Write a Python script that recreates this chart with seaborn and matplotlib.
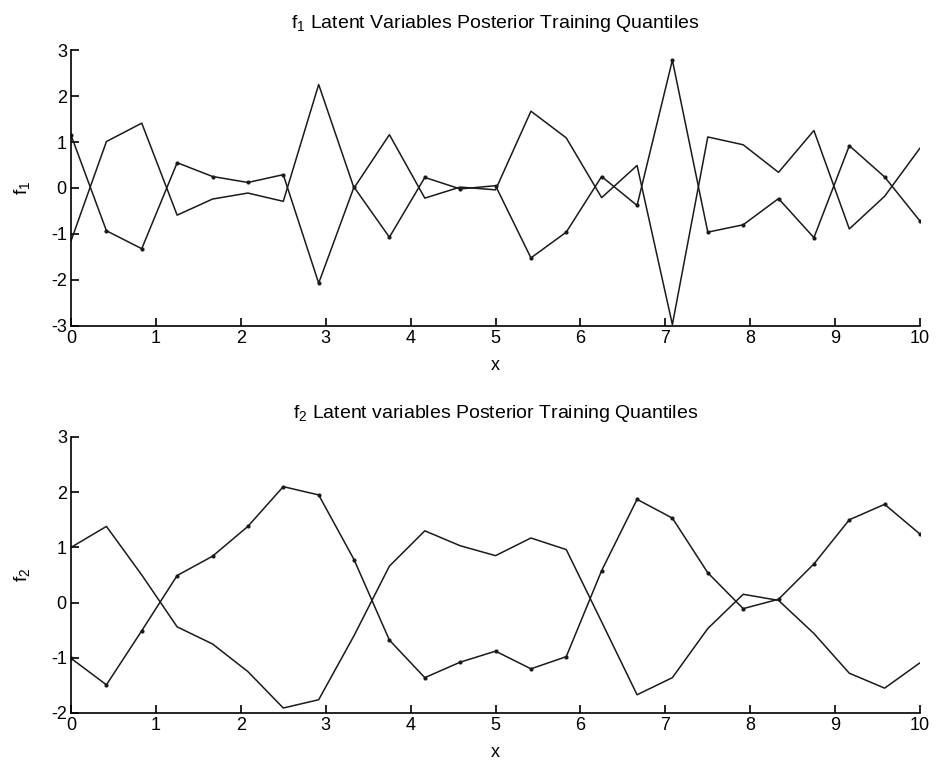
import numpy as np
import pandas as pd
import matplotlib
matplotlib.use("Agg")
import matplotlib.pyplot as plt
import seaborn as sns

x = [0, 0.417, 0.833, 1.25, 1.667, 2.083, 2.5, 2.917, 3.333, 3.75, 4.167, 4.583,
     5.0, 5.417, 5.833, 6.25, 6.667, 7.083, 7.5, 7.917, 8.333, 8.75, 9.167, 9.583, 10.0]

f1_dotted = [1.15, -0.93, -1.32, 0.55, 0.25, 0.12, 0.29, -2.07, 0.02, -1.07, 0.23, -0.02,
             0.05, -1.52, -0.96, 0.25, -0.38, 2.78, -0.96, -0.80, -0.23, -1.08, 0.92, 0.24, -0.72]
f1_plain = [-1.15, 1.01, 1.41, -0.59, -0.24, -0.11, -0.29, 2.25, 0.0, 1.16, -0.22, 0.02,
            -0.04, 1.67, 1.09, -0.21, 0.49, -2.97, 1.11, 0.94, 0.34, 1.25, -0.89, -0.18, 0.87]

f2_dotted = [-1.01, -1.49, -0.51, 0.49, 0.84, 1.38, 2.10, 1.95, 0.78, -0.68, -1.36, -1.08,
             -0.88, -1.20, -0.98, 0.58, 1.87, 1.53, 0.54, -0.11, 0.06, 0.70, 1.50, 1.78, 1.24]
f2_plain = [1.0, 1.38, 0.5, -0.44, -0.75, -1.25, -1.91, -1.76, -0.6, 0.66, 1.30, 1.03,
            0.85, 1.17, 0.96, -0.35, -1.67, -1.36, -0.47, 0.15, 0.04, -0.56, -1.28, -1.55, -1.09]

titles = [r"f$_1$ Latent Variables Posterior Training Quantiles",
          r"f$_2$ Latent variables Posterior Training Quantiles"]
ylabels = [r"f$_1$", r"f$_2$"]
ylims = [(-3, 3), (-2, 3)]
xticks = list(range(0, 11))

sns.set_theme(style="white")
plt.rcParams['font.family'] = ['Liberation Sans', 'DejaVu Sans']
plt.rcParams['mathtext.fontset'] = 'custom'
plt.rcParams['mathtext.rm'] = 'Liberation Sans'
plt.rcParams['mathtext.it'] = 'Liberation Sans'
plt.rcParams['axes.unicode_minus'] = False

fig = plt.figure(figsize=(9.37, 7.65), dpi=100)
ax1 = fig.add_axes([0.0758, 0.5739, 0.9061, 0.3607])
ax2 = fig.add_axes([0.0758, 0.0680, 0.9061, 0.3608])

data = [(f1_dotted, f1_plain), (f2_dotted, f2_plain)]
pads = [16, 14]
for ax, (dotted, plain), title, ylab, ylim, pad in zip([ax1, ax2], data, titles, ylabels, ylims, pads):
    sns.lineplot(x=x, y=dotted, ax=ax, color="#1a1a1a", linewidth=1.1,
                 marker="o", markersize=3, markeredgewidth=0)
    sns.lineplot(x=x, y=plain, ax=ax, color="#1a1a1a", linewidth=1.1)
    ax.set_xlim(0, 10)
    ax.set_ylim(*ylim)
    ax.set_xticks(xticks)
    ax.set_yticks(list(range(ylim[0], ylim[1] + 1)))
    for s in ["top", "right"]:
        ax.spines[s].set_visible(False)
    for s in ["left", "bottom"]:
        ax.spines[s].set_color("black")
        ax.spines[s].set_linewidth(1.2)
    ax.tick_params(direction="in", length=6, width=1.2, color="black",
                   labelsize=13, labelcolor="black", pad=3,
                   bottom=True, left=True)
    ax.set_xlabel("x", fontsize=13, labelpad=7, color="black")
    ax.set_ylabel(ylab, fontsize=14, labelpad=14, color="black")
    ax.set_title(title, fontsize=14, color="black", pad=pad)
    ax.patch.set_alpha(0)

fig.savefig("out.png", dpi=100, facecolor="white")
